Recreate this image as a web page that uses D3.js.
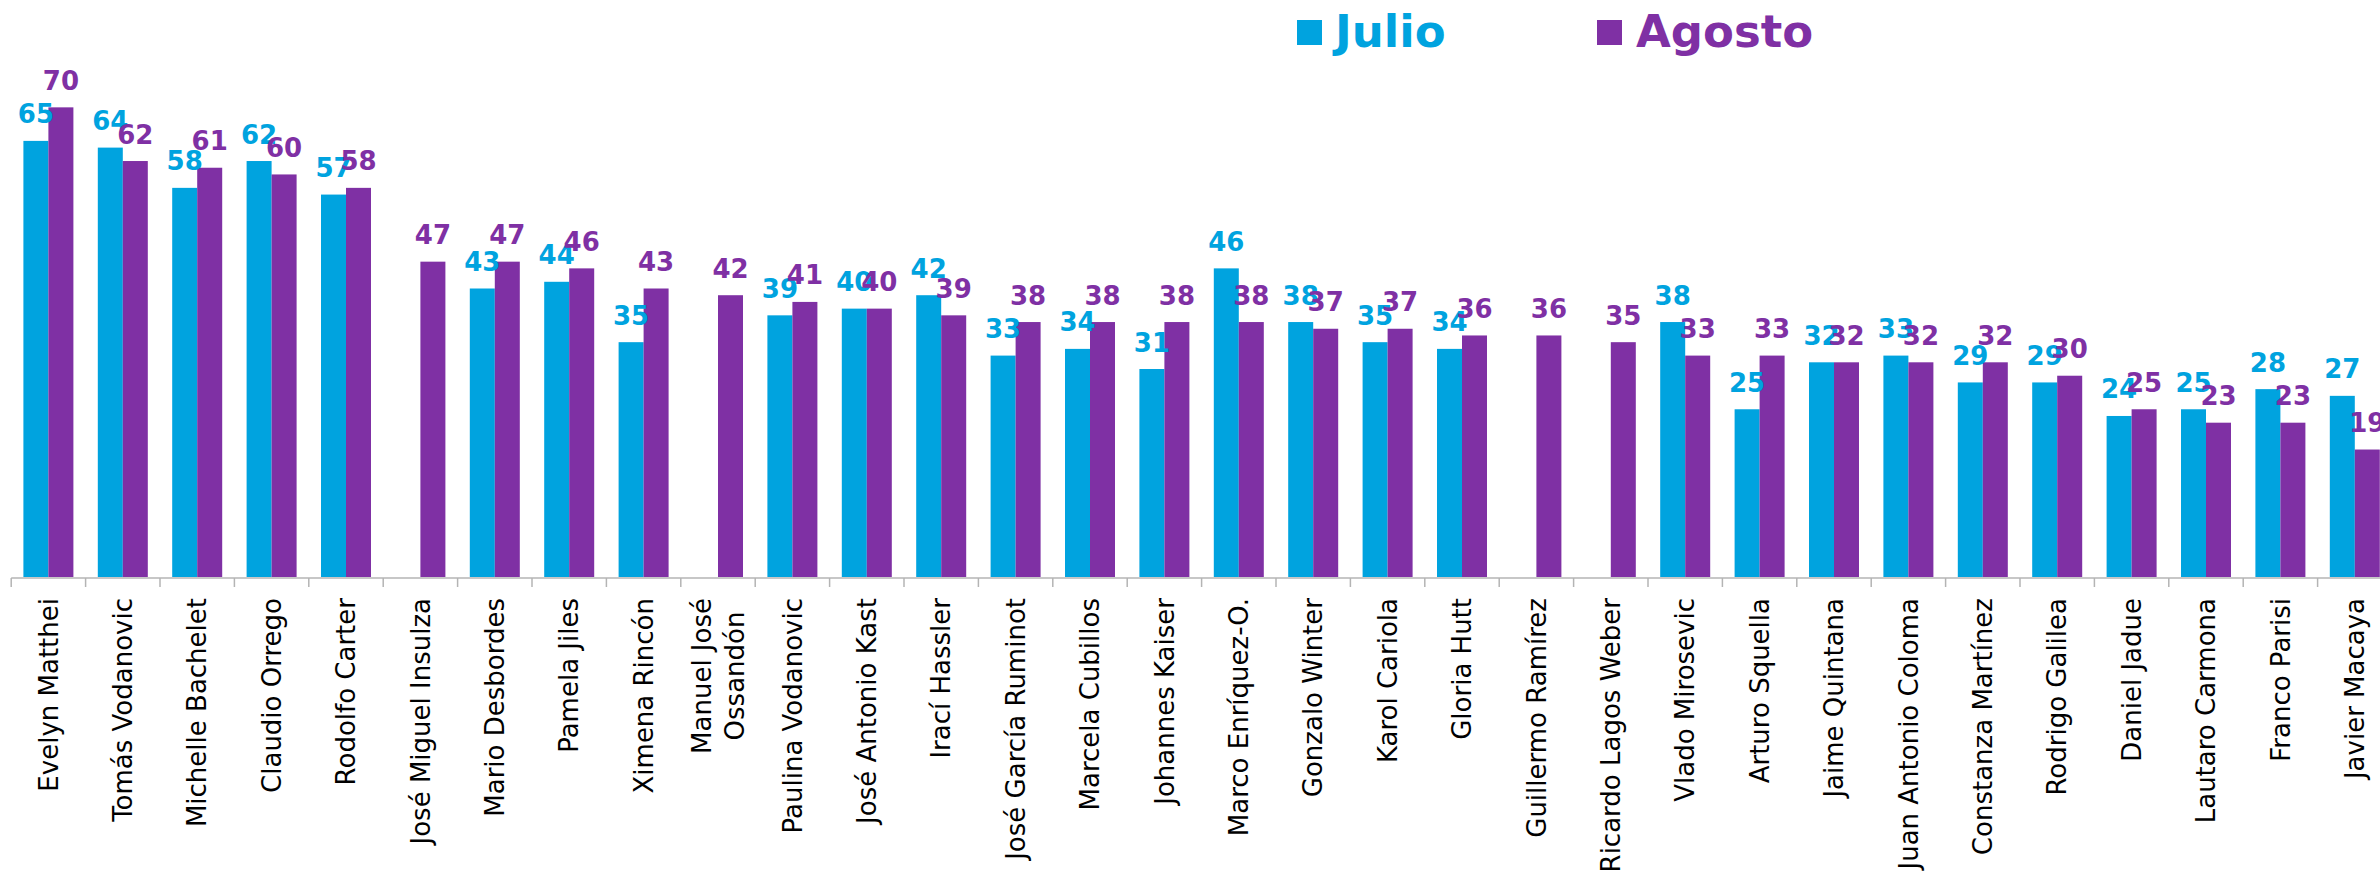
<!DOCTYPE html>
<html>
<head>
<meta charset="utf-8">
<script src="https://cdn.jsdelivr.net/npm/d3@7"></script>
<style>
  html, body { margin: 0; padding: 0; background: #fff; }
  #chart { width: 2380px; height: 886px; }
</style>
</head>
<body>
<div id="chart"></div>
<script>
const width = 2380, height = 886;

// data
const names = ["Evelyn Matthei", "Tomás Vodanovic", "Michelle Bachelet", "Claudio Orrego", "Rodolfo Carter",
  "José Miguel Insulza", "Mario Desbordes", "Pamela Jiles", "Ximena Rincón", "Manuel José\nOssandón",
  "Paulina Vodanovic", "José Antonio Kast", "Irací Hassler", "José García Ruminot", "Marcela Cubillos",
  "Johannes Kaiser", "Marco Enríquez-O.", "Gonzalo Winter", "Karol Cariola", "Gloria Hutt",
  "Guillermo Ramírez", "Ricardo Lagos Weber", "Vlado Mirosevic", "Arturo Squella", "Jaime Quintana",
  "Juan Antonio Coloma", "Constanza Martínez", "Rodrigo Galilea", "Daniel Jadue", "Lautaro Carmona",
  "Franco Parisi", "Javier Macaya"];
const julio = [65, 64, 58, 62, 57, null, 43, 44, 35, null, 39, 40, 42, 33, 34, 31, 46, 38, 35, 34,
  null, null, 38, 25, 32, 33, 29, 29, 24, 25, 28, 27];
const agosto = [70, 62, 61, 60, 58, 47, 47, 46, 43, 42, 41, 40, 39, 38, 38, 38, 38, 37, 37, 36,
  36, 35, 33, 33, 32, 32, 32, 30, 25, 23, 23, 19];
const seriesNames = ["Julio", "Agosto"];
const colors = { Julio: "#00a3df", Agosto: "#7f30a4" };

const series = [
  { key: "Julio", values: julio },
  { key: "Agosto", values: agosto }
];

const svg = d3.select("#chart")
  .append("svg")
  .attr("width", width)
  .attr("height", height);

// scales
const x0 = d3.scaleBand()
  .domain(names)
  .range([11.2, 11.2 + names.length * 74.4])
  .paddingInner(0)
  .paddingOuter(0);

const x1 = d3.scaleBand()
  .domain(seriesNames)
  .range([0, x0.bandwidth()])
  .paddingInner(0)
  .paddingOuter(0.488);

const y = d3.scaleLinear()
  .domain([0, 86])
  .range([577, 0]);

// bars
series.forEach(s => {
  svg.append("g")
    .selectAll("rect")
    .data(names.map((n, i) => ({ name: n, v: s.values[i] })).filter(d => d.v != null))
    .enter()
    .append("rect")
    .attr("x", d => x0(d.name) + x1(s.key))
    .attr("y", d => y(d.v))
    .attr("width", x1.bandwidth())
    .attr("height", d => y(0) - y(d.v))
    .attr("fill", colors[s.key]);
});

// axis line + ticks at category boundaries
const axisY = 578;
svg.append("line")
  .attr("x1", x0.range()[0])
  .attr("x2", x0.range()[1])
  .attr("y1", axisY)
  .attr("y2", axisY)
  .attr("stroke", "#b4b4b4")
  .attr("stroke-width", 1.5);

svg.append("g")
  .selectAll("line")
  .data(names)
  .enter()
  .append("line")
  .attr("x1", d => x0(d))
  .attr("x2", d => x0(d))
  .attr("y1", axisY)
  .attr("y2", axisY + 9)
  .attr("stroke", "#b4b4b4")
  .attr("stroke-width", 1.5);

// category labels, rotated
const labelTop = 598;
names.forEach(n => {
  const lines = n.split("\n");
  const cx = x0(n) + x0.bandwidth() / 2;
  const lineGap = 33;
  const g = svg.append("g")
    .attr("transform", `translate(${cx},${labelTop}) rotate(-90)`);
  const texts = lines.map((ln, i) => g.append("text")
    .attr("y", (i - (lines.length - 1) / 2) * lineGap)
    .attr("dy", "0.35em")
    .attr("font-family", "DejaVu Sans, sans-serif")
    .attr("font-size", 26)
    .attr("fill", "#000")
    .text(ln));
  const maxW = d3.max(texts, t => t.node().getComputedTextLength());
  texts.forEach(t => t.attr("x", -maxW / 2).attr("text-anchor", "middle"));
});

// value labels (Julio first so Agosto sits on top)
series.forEach(s => {
  svg.append("g")
    .selectAll("text")
    .data(names.map((n, i) => ({ name: n, v: s.values[i] })).filter(d => d.v != null))
    .enter()
    .append("text")
    .attr("x", d => x0(d.name) + x1(s.key) + x1.bandwidth() / 2)
    .attr("y", d => y(d.v) - 17.5)
    .attr("text-anchor", "middle")
    .attr("font-family", "DejaVu Sans, sans-serif")
    .attr("font-weight", "bold")
    .attr("font-size", 26)
    .attr("fill", colors[s.key])
    .text(d => d.v);
});

// legend
const legend = [
  { key: "Julio", sx: 1297, tx: 1335 },
  { key: "Agosto", sx: 1597, tx: 1636 }
];
legend.forEach(l => {
  svg.append("rect")
    .attr("x", l.sx)
    .attr("y", 20)
    .attr("width", 25)
    .attr("height", 25)
    .attr("fill", colors[l.key]);
  svg.append("text")
    .attr("x", l.tx)
    .attr("y", 47)
    .attr("font-family", "DejaVu Sans, sans-serif")
    .attr("font-weight", "bold")
    .attr("font-size", 45)
    .attr("fill", colors[l.key])
    .text(l.key);
});
</script>
</body>
</html>
